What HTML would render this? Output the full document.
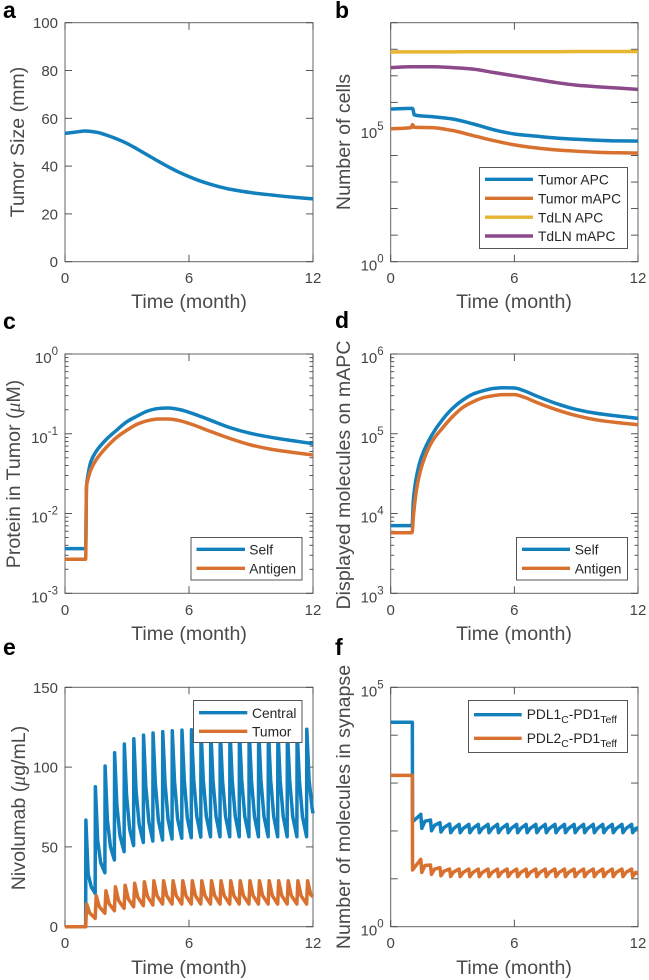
<!DOCTYPE html>
<html lang="en">
<head>
<meta charset="utf-8">
<title>Model simulation panels</title>
<style>
html,body{margin:0;padding:0;background:#fff;}
svg{display:block;font-family:"Liberation Sans",Arial,sans-serif;filter:blur(0.35px);}
.letter{font-size:23px;font-weight:bold;fill:#000;}
.title{font-size:19.6px;fill:#4a4a4a;}
.leg{font-size:13.8px;fill:#262626;}
.legbox{fill:#fff;stroke:#555;stroke-width:1;}
.legline{stroke-width:3.4;fill:none;}
</style>
</head>
<body>
<svg id="figure" width="649" height="980" viewBox="0 0 649 980" xmlns="http://www.w3.org/2000/svg">
<rect width="649" height="980" fill="#fff"/>

<g>
<text class="letter" x="3" y="18">a</text>
<g id="axes-a"></g><g id="marks-a"></g>
<text class="title" text-anchor="middle" x="189" y="308">Time (month)</text>
<text class="title" text-anchor="middle" transform="translate(24,142) rotate(-90)">Tumor Size (mm)</text>
</g>

<g>
<text class="letter" x="335" y="18">b</text>
<g id="axes-b"></g><g id="marks-b"></g>
<text class="title" text-anchor="middle" x="514" y="308">Time (month)</text>
<text class="title" text-anchor="middle" transform="translate(350,142) rotate(-90)">Number of cells</text>
<g>
<rect class="legbox" x="479.5" y="167.5" width="148" height="81"/>
<line class="legline" x1="485" x2="533" y1="179.3" y2="179.3" stroke="#1180bd"/>
<text class="leg" x="538" y="184.5">Tumor APC</text>
<line class="legline" x1="485" x2="533" y1="198.3" y2="198.3" stroke="#d8712f"/>
<text class="leg" x="538" y="203.5">Tumor mAPC</text>
<line class="legline" x1="485" x2="533" y1="217.2" y2="217.2" stroke="#e8b530"/>
<text class="leg" x="538" y="222.4">TdLN APC</text>
<line class="legline" x1="485" x2="533" y1="236" y2="236" stroke="#8c4a8a"/>
<text class="leg" x="538" y="241.2">TdLN mAPC</text>
</g>
</g>

<g>
<text class="letter" x="3" y="329">c</text>
<g id="axes-c"></g><g id="marks-c"></g>
<text class="title" text-anchor="middle" x="189" y="640">Time (month)</text>
<text class="title" text-anchor="middle" transform="translate(20,474) rotate(-90)">Protein in Tumor (<tspan font-family="'Liberation Serif',serif" font-style="italic">μ</tspan>M)</text>
<g>
<rect class="legbox" x="191" y="537.5" width="111" height="42.5"/>
<line class="legline" x1="196.5" x2="245" y1="549.3" y2="549.3" stroke="#1180bd"/>
<text class="leg" x="249.3" y="554.5">Self</text>
<line class="legline" x1="196.5" x2="245" y1="568.3" y2="568.3" stroke="#d8712f"/>
<text class="leg" x="249.3" y="573.5">Antigen</text>
</g>
</g>

<g>
<text class="letter" x="335" y="328">d</text>
<g id="axes-d"></g><g id="marks-d"></g>
<text class="title" text-anchor="middle" x="514" y="640">Time (month)</text>
<text class="title" text-anchor="middle" transform="translate(350,475) rotate(-90)">Displayed molecules on mAPC</text>
<g>
<rect class="legbox" x="516.5" y="537.5" width="111" height="42.5"/>
<line class="legline" x1="522" x2="570" y1="549.3" y2="549.3" stroke="#1180bd"/>
<text class="leg" x="574.7" y="554.5">Self</text>
<line class="legline" x1="522" x2="570" y1="568.3" y2="568.3" stroke="#d8712f"/>
<text class="leg" x="574.7" y="573.5">Antigen</text>
</g>
</g>

<g>
<text class="letter" x="3" y="655">e</text>
<g id="axes-e"></g><g id="marks-e"></g>
<text class="title" text-anchor="middle" x="189" y="974">Time (month)</text>
<text class="title" text-anchor="middle" transform="translate(25,808) rotate(-90)">Nivolumab (<tspan font-family="'Liberation Serif',serif" font-style="italic">μ</tspan>g/mL)</text>
<g>
<rect class="legbox" x="193.5" y="700.5" width="108.5" height="42"/>
<line class="legline" x1="199" x2="247.3" y1="712.7" y2="712.7" stroke="#1180bd"/>
<text class="leg" x="252" y="717.9">Central</text>
<line class="legline" x1="199" x2="247.3" y1="731.3" y2="731.3" stroke="#d8712f"/>
<text class="leg" x="252" y="736.5">Tumor</text>
</g>
</g>

<g>
<text class="letter" x="335" y="655">f</text>
<g id="axes-f"></g><g id="marks-f"></g>
<text class="title" text-anchor="middle" x="514" y="974">Time (month)</text>
<text class="title" text-anchor="middle" transform="translate(350,807) rotate(-90)">Number of molecules in synapse</text>
<g>
<rect class="legbox" x="468.5" y="700.5" width="159" height="52"/>
<line class="legline" x1="474" x2="521.7" y1="714.7" y2="714.7" stroke="#1180bd"/>
<text class="leg" x="526.7" y="719">PDL1<tspan font-size="10.5" dy="4">C</tspan><tspan dy="-4">-PD1</tspan><tspan font-size="10.5" dy="4">Teff</tspan></text>
<line class="legline" x1="474" x2="521.7" y1="738.3" y2="738.3" stroke="#d8712f"/>
<text class="leg" x="526.7" y="743">PDL2<tspan font-size="10.5" dy="4">C</tspan><tspan dy="-4">-PD1</tspan><tspan font-size="10.5" dy="4">Teff</tspan></text>
</g>
</g>
</svg>

<script>
/* ---------- shared ---------- */
var xTicks = [0, 6, 12];

/* ---------- panel a ---------- */
var aYTicks = [0, 20, 40, 60, 80, 100];
var aTime = [0, 0.5, 1, 1.5, 2, 2.5, 3, 3.5, 4, 4.5, 5, 5.5, 6, 6.5, 7, 7.5, 8, 9, 10, 11, 12];
var aSize = [53.7, 54.2, 54.7, 54.2, 53, 51.4, 49.5, 47.1, 44.6, 42.1, 39.7, 37.5, 35.6, 33.9, 32.5, 31.3, 30.3, 28.9, 27.9, 27, 26.3];

/* ---------- panel b ---------- */
var bYDecades = [0, 1, 2, 3, 4, 5, 6, 7, 8, 9];
var bYLabelled = [0, 5];
var bTime = [0, 1, 1.06, 1.15, 2, 3, 4, 5, 6, 7, 8, 9, 10, 11, 12];
var bTumorApc = [562000, 596000, 590000, 335000, 290000, 237000, 155000, 93000, 64600, 54000, 45700, 40900, 37600, 35500, 34700];
var bTumorMapc = [102000, 112000, 145000, 115000, 112000, 87000, 56200, 36300, 25100, 19500, 16200, 14500, 13300, 12600, 12300];
var bTdlnApc = [79000000, 80000000, 80000000, 80000000, 80000000, 80000000, 81000000, 81000000, 81000000, 81000000, 81000000, 82000000, 82000000, 82000000, 82000000];
var bTdlnMapc = [20400000, 21900000, 21900000, 21900000, 21900000, 20400000, 17800000, 13300000, 10000000, 7500000, 5620000, 4470000, 3890000, 3470000, 3090000];

/* ---------- panel c ---------- */
var cYDecades = [-3, -2, -1, 0];
var cTime = [0, 1, 1.04, 1.1, 1.25, 1.5, 2, 2.5, 3, 3.5, 4, 4.5, 5, 5.5, 6, 7, 8, 9, 10, 11, 12];
var cSelf = [0.00363, 0.00363, 0.0217, 0.029, 0.0447, 0.0597, 0.0851, 0.111, 0.142, 0.167, 0.193, 0.207, 0.21, 0.202, 0.186, 0.149, 0.119, 0.101, 0.09, 0.082, 0.075];
var cAntigen = [0.00267, 0.00267, 0.0217, 0.0263, 0.0352, 0.0469, 0.0676, 0.0902, 0.111, 0.132, 0.146, 0.153, 0.153, 0.147, 0.135, 0.108, 0.0869, 0.0723, 0.0638, 0.0585, 0.0542];

/* ---------- panel d ---------- */
var dYDecades = [3, 4, 5, 6];
var dTime = [0, 1, 1.04, 1.1, 1.25, 1.5, 2, 2.5, 3, 3.5, 4, 4.5, 5, 5.5, 6, 6.5, 7, 8, 9, 10, 11, 12];
var dSelf = [7050, 7050, 7100, 14800, 29000, 51600, 96500, 149000, 208000, 265000, 315000, 347000, 371000, 378000, 375000, 344000, 303000, 241000, 202000, 180000, 167000, 156000];
var dAntigen = [5750, 5750, 5800, 9120, 19700, 38700, 79400, 117000, 164000, 214000, 252000, 284000, 301000, 309000, 309000, 286000, 252000, 202000, 169000, 149000, 138000, 130000];

/* ---------- panel e ---------- */
var eYTicks = [0, 50, 100, 150];
var doseMonths = [1, 1.46, 1.93, 2.39, 2.86, 3.32, 3.79, 4.25, 4.72, 5.18, 5.65, 6.11, 6.57, 7.04, 7.5, 7.97, 8.43, 8.9, 9.36, 9.83, 10.29, 10.75, 11.22, 11.69];
var centralPeak = [66.8, 87.7, 100.7, 109, 114.5, 117.8, 120, 121.4, 122.2, 122.8, 123.2, 123.4, 123.7, 123.7, 123.7, 123.7, 123.7, 123.7, 123.7, 123.7, 123.7, 123.7, 123.7, 123.7];
var centralEarly = [33, 54, 67, 76, 82, 85, 88, 90, 90, 91, 92, 92, 92, 92, 92, 92, 92, 92, 92, 92, 92, 92, 92, 92];
var centralLate = [25, 40, 50, 57, 61, 64, 65.5, 66.5, 67, 67.5, 68, 69, 69, 69, 69, 69, 69, 69, 69, 69, 69, 69, 69, 74];
var centralTrough = [20.9, 33.8, 41.8, 47, 50.8, 52.8, 53.7, 54.3, 55, 55.4, 55.8, 56.2, 56.4, 56.4, 56.4, 56.4, 56.4, 56.4, 56.4, 56.4, 56.4, 56.4, 56.4, 71];
var tumorPeak = [14.2, 19.4, 22.5, 25, 26, 27.2, 28.2, 28.8, 28.8, 28.8, 28.8, 28.8, 28.8, 28.8, 28.8, 28.8, 28.8, 28.8, 28.8, 28.8, 28.8, 28.8, 28.8, 28.8];
var tumorMid = [8.5, 12.5, 14.5, 16.5, 17.5, 18.5, 19, 19.5, 19.5, 19.5, 19.5, 19.5, 19.5, 19.5, 19.5, 19.5, 19.5, 19.5, 19.5, 19.5, 19.5, 19.5, 19.5, 20];
var tumorTrough = [5.2, 8.4, 10, 11.5, 12.5, 13.2, 13.6, 14.2, 14.2, 14.2, 14.2, 14.2, 14.2, 14.2, 14.2, 14.2, 14.2, 14.2, 14.2, 14.2, 14.2, 14.2, 14.2, 18.8];

/* ---------- panel f ---------- */
var fYDecades = [0, 1, 2, 3, 4, 5];
var fYLabelled = [0, 5];
var fDoses = [1.46, 1.93, 2.39, 2.86, 3.32, 3.79, 4.25, 4.72, 5.18, 5.65, 6.11, 6.57, 7.04, 7.5, 7.97, 8.43, 8.9, 9.36, 9.83, 10.29, 10.75, 11.22, 11.69];
var pdl1Start = 18600;
var pdl1AfterDrop = 155;
var pdl1Peak = [222, 169, 149, 140, 137, 137, 137, 137, 137, 137, 137, 137, 137, 137, 137, 137, 137, 137, 137, 137, 137, 137, 137];
var pdl1Trough = [113, 101, 95, 92, 92, 92, 92, 92, 92, 92, 92, 92, 92, 92, 92, 92, 92, 92, 92, 92, 92, 92, 92];
var pdl1Mid = [160, 131, 118, 113, 113, 113, 113, 113, 113, 113, 113, 113, 113, 113, 113, 113, 113, 113, 113, 113, 113, 113, 113];
var pdl1End = 116;
var pdl2Start = 1450;
var pdl2AfterDrop = 15.3;
var pdl2Peak = [25.5, 19.4, 17.1, 16, 16, 16, 16, 16, 16, 16, 16, 16, 16, 16, 16, 16, 16, 16, 16, 16, 16, 16, 16];
var pdl2Trough = [13.6, 12.4, 11.6, 11.2, 11.1, 11.1, 11.1, 11.1, 11.1, 11.1, 11.1, 11.1, 11.1, 11.1, 11.1, 11.1, 11.1, 11.1, 11.1, 11.1, 11.1, 11.1, 11.1];
var pdl2Mid = [19, 16, 14.5, 14, 13.6, 13.6, 13.6, 13.6, 13.6, 13.6, 13.6, 13.6, 13.6, 13.6, 13.6, 13.6, 13.6, 13.6, 13.6, 13.6, 13.6, 13.6, 13.6];
var pdl2End = 13;

/* ---------- drawing ---------- */
var NS = 'http://www.w3.org/2000/svg';
var TICK = '#444', FRAME = '#666', LABEL = '#444';
var BLUE = '#1180bd', ORANGE = '#d8712f', YELLOW = '#e8b530', PURPLE = '#8c4a8a';

function linearAxis(min, max, top, bottom) {
  return function (v) { return bottom - (v - min) / (max - min) * (bottom - top); };
}
function logAxis(minExp, maxExp, top, bottom) {
  return function (v) { return bottom - (Math.log10(v) - minExp) / (maxExp - minExp) * (bottom - top); };
}
function timeAxis(left, right) {
  return function (t) { return left + t / 12 * (right - left); };
}
function addLine(parent, x1, y1, x2, y2, color, width, name) {
  var el = document.createElementNS(NS, 'line');
  el.setAttribute('x1', x1);
  el.setAttribute('y1', y1);
  el.setAttribute('x2', x2);
  el.setAttribute('y2', y2);
  el.setAttribute('stroke', color);
  el.setAttribute('stroke-width', width);
  
  
  parent.appendChild(el);
}
function addText(parent, x, y, anchor, content, name) {
  var el = document.createElementNS(NS, 'text');
  el.setAttribute('x', x);
  el.setAttribute('y', y);
  el.setAttribute('text-anchor', anchor);
  el.setAttribute('font-size', '15');
  el.setAttribute('fill', LABEL);
  el.textContent = content;
  
  
  parent.appendChild(el);
  return el;
}
function addExpLabel(parent, right, y, exp, name) {
  var el = addText(parent, right, y + 9, 'end', '10', name);
  var sup = document.createElementNS(NS, 'tspan');
  sup.setAttribute('font-size', '11.5');
  sup.setAttribute('dy', '-8');
  sup.textContent = String(exp);
  el.appendChild(sup);
}
function frameAndXTicks(id, box, X) {
  var g = document.getElementById('axes-' + id);
  var rect = document.createElementNS(NS, 'rect');
  rect.setAttribute('x', box.left);
  rect.setAttribute('y', box.top);
  rect.setAttribute('width', box.right - box.left);
  rect.setAttribute('height', box.bottom - box.top);
  rect.setAttribute('fill', 'none');
  rect.setAttribute('stroke', FRAME);
  rect.setAttribute('stroke-width', '1');
  
  
  g.appendChild(rect);
  xTicks.forEach(function (t) {
    var x = X(t);
    addLine(g, x, box.bottom, x, box.bottom - 7, TICK, 0.9, 'x-tick-bottom');
    addLine(g, x, box.top, x, box.top + 7, TICK, 0.9, 'x-tick-top');
    addText(g, x, box.bottom + 21.5, 'middle', String(t), 'x-tick-label');
  });
  return g;
}
function yTick(g, box, y, len) {
  addLine(g, box.left, y, box.left + len, y, TICK, 0.9, 'y-tick-left');
  addLine(g, box.right, y, box.right - len, y, TICK, 0.9, 'y-tick-right');
}
function linearYTicks(g, box, Y, ticks) {
  ticks.forEach(function (v) {
    yTick(g, box, Y(v), 7);
    addText(g, box.left - 7, Y(v) + 5.5, 'end', String(v), 'y-tick-label');
  });
}
function logYTicks(g, box, Y, decades, labelled, minor) {
  decades.forEach(function (e, i) {
    var base = Math.pow(10, e);
    yTick(g, box, Y(base), 7);
    if (labelled.indexOf(e) >= 0) addExpLabel(g, box.left - 7, Y(base), e, 'y-tick-label');
    if (minor && i < decades.length - 1) {
      for (var m = 2; m <= 9; m++) yTick(g, box, Y(m * base), 3.5);
    }
  });
}
function linearPath(px, py) {
  var d = '';
  for (var i = 0; i < px.length; i++) {
    d += (i ? 'L' : 'M') + px[i].toFixed(2) + ' ' + py[i].toFixed(2);
  }
  return d;
}
/* monotone cubic: rounds the curve between read points without overshoot */
function monotonePath(px, py) {
  var n = px.length, slope = [], tan = [], i;
  for (i = 0; i < n - 1; i++) slope.push((py[i + 1] - py[i]) / (px[i + 1] - px[i]));
  tan.push(slope[0]);
  for (i = 1; i < n - 1; i++) {
    if (slope[i - 1] * slope[i] <= 0) { tan.push(0); }
    else {
      var w1 = 2 * (px[i + 1] - px[i]) + (px[i] - px[i - 1]);
      var w2 = (px[i + 1] - px[i]) + 2 * (px[i] - px[i - 1]);
      tan.push((w1 + w2) / (w1 / slope[i - 1] + w2 / slope[i]));
    }
  }
  tan.push(slope[n - 2]);
  var d = 'M' + px[0].toFixed(2) + ' ' + py[0].toFixed(2);
  for (i = 0; i < n - 1; i++) {
    var h = (px[i + 1] - px[i]) / 3;
    d += 'C' + (px[i] + h).toFixed(2) + ' ' + (py[i] + h * tan[i]).toFixed(2) + ' ' +
      (px[i + 1] - h).toFixed(2) + ' ' + (py[i + 1] - h * tan[i + 1]).toFixed(2) + ' ' +
      px[i + 1].toFixed(2) + ' ' + py[i + 1].toFixed(2);
  }
  return d;
}
function addSeries(id, ts, vs, X, Y, color, name, smooth) {
  var px = ts.map(X), py = vs.map(Y);
  var el = document.createElementNS(NS, 'path');
  el.setAttribute('d', smooth ? monotonePath(px, py) : linearPath(px, py));
  el.setAttribute('fill', 'none');
  el.setAttribute('stroke', color);
  el.setAttribute('stroke-width', '3.5');
  el.setAttribute('stroke-linejoin', 'round');
  
  
  document.getElementById('marks-' + id).appendChild(el);
}

var leftCol = { left: 65, right: 313 };
var rightCol = { left: 390.7, right: 638 };
var row1 = { top: 22.7, bottom: 261.7 };
var row2 = { top: 354, bottom: 593.3 };
var row3 = { top: 687.3, bottom: 926.7 };
function makeBox(col, row) {
  return { left: col.left, right: col.right, top: row.top, bottom: row.bottom };
}

/* a */
(function () {
  var box = makeBox(leftCol, row1), X = timeAxis(box.left, box.right), Y = linearAxis(0, 100, box.top, box.bottom);
  var g = frameAndXTicks('a', box, X);
  linearYTicks(g, box, Y, aYTicks);
  addSeries('a', aTime, aSize, X, Y, BLUE, 'tumor-size-line', true);
})();

/* b */
(function () {
  var box = makeBox(rightCol, row1), X = timeAxis(box.left, box.right), Y = logAxis(0, 9, box.top, box.bottom);
  var g = frameAndXTicks('b', box, X);
  logYTicks(g, box, Y, bYDecades, bYLabelled, false);
  addSeries('b', bTime, bTumorApc, X, Y, BLUE, 'tumor-apc-line', true);
  addSeries('b', bTime, bTumorMapc, X, Y, ORANGE, 'tumor-mapc-line', true);
  addSeries('b', bTime, bTdlnApc, X, Y, YELLOW, 'tdln-apc-line', true);
  addSeries('b', bTime, bTdlnMapc, X, Y, PURPLE, 'tdln-mapc-line', true);
})();

/* c */
(function () {
  var box = makeBox(leftCol, row2), X = timeAxis(box.left, box.right), Y = logAxis(-3, 0, box.top, box.bottom);
  var g = frameAndXTicks('c', box, X);
  logYTicks(g, box, Y, cYDecades, cYDecades, true);
  addSeries('c', cTime, cSelf, X, Y, BLUE, 'self-protein-line', true);
  addSeries('c', cTime, cAntigen, X, Y, ORANGE, 'antigen-protein-line', true);
})();

/* d */
(function () {
  var box = makeBox(rightCol, row2), X = timeAxis(box.left, box.right), Y = logAxis(3, 6, box.top, box.bottom);
  var g = frameAndXTicks('d', box, X);
  logYTicks(g, box, Y, dYDecades, dYDecades, true);
  addSeries('d', dTime, dSelf, X, Y, BLUE, 'self-displayed-line', true);
  addSeries('d', dTime, dAntigen, X, Y, ORANGE, 'antigen-displayed-line', true);
})();

/* e */
(function () {
  var box = makeBox(leftCol, row3), X = timeAxis(box.left, box.right), Y = linearAxis(0, 150, box.top, box.bottom);
  var g = frameAndXTicks('e', box, X);
  linearYTicks(g, box, Y, eYTicks);
  var ct = [0, doseMonths[0]], cv = [0, 0];
  doseMonths.forEach(function (d, i) {
    ct.push(d + 0.01, d + 0.12, d + 0.27);
    cv.push(centralPeak[i], centralEarly[i], centralLate[i]);
    ct.push(i + 1 < doseMonths.length ? doseMonths[i + 1] : 12);
    cv.push(centralTrough[i]);
  });
  addSeries('e', ct, cv, X, Y, BLUE, 'central-line', false);
  var tt = [0, doseMonths[0]], tv = [0, 0];
  doseMonths.forEach(function (d, i) {
    tt.push(d + 0.05, d + 0.2);
    tv.push(tumorPeak[i], tumorMid[i]);
    tt.push(i + 1 < doseMonths.length ? doseMonths[i + 1] : 12);
    tv.push(tumorTrough[i]);
  });
  addSeries('e', tt, tv, X, Y, ORANGE, 'tumor-line', false);
})();

/* f */
(function () {
  var box = makeBox(rightCol, row3), X = timeAxis(box.left, box.right), Y = logAxis(0, 5, box.top, box.bottom);
  var g = frameAndXTicks('f', box, X);
  logYTicks(g, box, Y, fYDecades, fYLabelled, false);
  function saw(start, afterDrop, peak, trough, mid, end) {
    var t = [0, 1.05, 1.06], v = [start, start, afterDrop];
    fDoses.forEach(function (d, i) {
      t.push(d, d + 0.05, d + 0.2);
      v.push(peak[i], trough[i], mid[i]);
    });
    t.push(12);
    v.push(end);
    return { t: t, v: v };
  }
  var s1 = saw(pdl1Start, pdl1AfterDrop, pdl1Peak, pdl1Trough, pdl1Mid, pdl1End);
  var s2 = saw(pdl2Start, pdl2AfterDrop, pdl2Peak, pdl2Trough, pdl2Mid, pdl2End);
  addSeries('f', s1.t, s1.v, X, Y, BLUE, 'pdl1-line', false);
  addSeries('f', s2.t, s2.v, X, Y, ORANGE, 'pdl2-line', false);
})();
</script>
</body>
</html>
